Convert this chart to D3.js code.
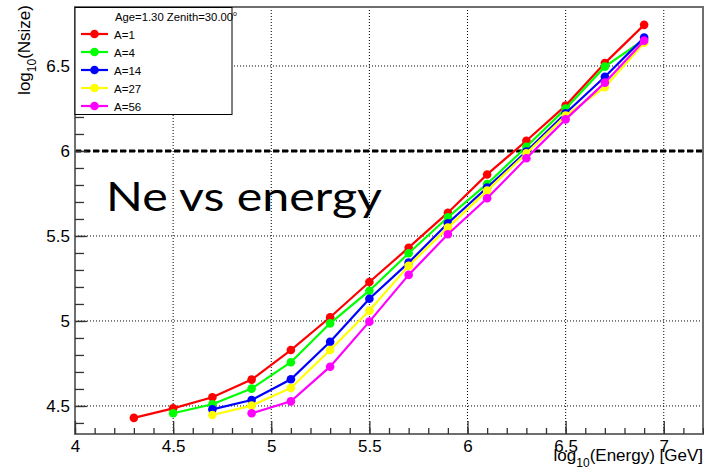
<!DOCTYPE html>
<html>
<head>
<meta charset="utf-8">
<script src="https://cdn.jsdelivr.net/npm/d3@7"></script>
<style>
  body { margin: 0; background: #fff; }
</style>
</head>
<body>
<div id="chart"></div>
<script>
// log10(Energy) bins, each series starts at a different bin (null = no point)
var energy = [4.3, 4.5, 4.7, 4.9, 5.1, 5.3, 5.5, 5.7, 5.9, 6.1, 6.3, 6.5, 6.7, 6.9];
var a1  = [4.430, 4.486, 4.551, 4.655, 4.829, 5.022, 5.229, 5.431, 5.637, 5.862, 6.060, 6.267, 6.517, 6.742];
var a4  = [null, 4.457, 4.510, 4.602, 4.757, 4.986, 5.178, 5.398, 5.610, 5.806, 6.025, 6.249, 6.496, 6.655];
var a14 = [null, null, 4.480, 4.535, 4.657, 4.878, 5.131, 5.343, 5.575, 5.785, 5.996, 6.222, 6.437, 6.667];
var a27 = [null, null, 4.447, 4.502, 4.606, 4.829, 5.061, 5.324, 5.549, 5.767, 5.986, 6.208, 6.375, 6.637];
var a56 = [null, null, null, 4.457, 4.527, 4.731, 4.996, 5.271, 5.510, 5.722, 5.957, 6.186, 6.402, 6.649];

var seriesNames = ["A=1", "A=4", "A=14", "A=27", "A=56"];
var seriesValues = [a1, a4, a14, a27, a56];
var colors = ["#ff0000", "#00ff00", "#0000ff", "#ffff00", "#ff00ff"];

var xTicks = [4, 4.5, 5, 5.5, 6, 6.5, 7];
var yTicks = [4.5, 5, 5.5, 6, 6.5];
var threshold = 6;

var helv = "'Liberation Sans', Arial, sans-serif";

// set the dimensions and margins of the graph
var W = 704, H = 475;
var margin = {top: 7, right: 1, bottom: 41, left: 75},
    width = W - margin.left - margin.right,
    height = H - margin.top - margin.bottom;

var svg = d3.select("#chart")
  .append("svg")
    .attr("width", W)
    .attr("height", H)
    .style("font-family", helv)
  .append("g")
    .attr("transform", "translate(" + margin.left + "," + margin.top + ")");

var x = d3.scaleLinear().domain([4, 7.2]).range([0, width]);
var y = d3.scaleLinear().domain([4.335, 6.847]).range([height, 0]);

// dotted grid
svg.append("g")
  .selectAll("line")
  .data(xTicks.filter(function(d) { return d > 4; }))
  .enter().append("line")
    .attr("x1", d => x(d)).attr("x2", d => x(d))
    .attr("y1", 0).attr("y2", height)
    .attr("stroke", "#000").attr("stroke-width", 1)
    .attr("stroke-dasharray", "1,2");
svg.append("g")
  .selectAll("line")
  .data(yTicks)
  .enter().append("line")
    .attr("x1", 0).attr("x2", width)
    .attr("y1", d => y(d)).attr("y2", d => y(d))
    .attr("stroke", "#000").attr("stroke-width", 1)
    .attr("stroke-dasharray", "1,2");

// thick dashed line at log10(Nsize) = 6
svg.append("line")
  .attr("x1", 0).attr("x2", width)
  .attr("y1", y(threshold)).attr("y2", y(threshold))
  .attr("stroke", "#000").attr("stroke-width", 3)
  .attr("stroke-dasharray", "6,3");

// frame
svg.append("rect")
  .attr("x", 0).attr("y", 0)
  .attr("width", width).attr("height", height)
  .attr("fill", "none").attr("stroke", "#6e6e6e").attr("stroke-width", 2);

// X axis: ticks drawn inward, ROOT style
var xMinor = d3.range(40, 73).map(d => d / 10);
svg.append("g")
  .attr("transform", "translate(0," + height + ")")
  .call(d3.axisBottom(x).tickValues(xMinor).tickSize(-6).tickFormat(""))
  .call(g => g.select(".domain").remove())
  .call(g => g.selectAll("line").attr("stroke", "#333").attr("stroke-width", 1.3));
svg.append("g")
  .attr("transform", "translate(0," + height + ")")
  .call(d3.axisBottom(x).tickValues(xTicks).tickSize(-13)
    .tickFormat(d3.format("")))
  .call(g => g.select(".domain").remove())
  .call(g => g.selectAll("line").attr("stroke", "#333").attr("stroke-width", 1.3))
  .call(g => g.selectAll("text").attr("font-size", 17).attr("fill", "#000")
    .attr("font-family", helv)
    .attr("y", 6));

// Y axis
var yMinor = d3.range(44, 69).map(d => d / 10);
svg.append("g")
  .call(d3.axisLeft(y).tickValues(yMinor).tickSize(-9).tickFormat(""))
  .call(g => g.select(".domain").remove())
  .call(g => g.selectAll("line").attr("stroke", "#333").attr("stroke-width", 1.3));
svg.append("g")
  .call(d3.axisLeft(y).tickValues(yTicks).tickSize(-12).tickPadding(5)
    .tickFormat(d3.format("")))
  .call(g => g.select(".domain").remove())
  .call(g => g.selectAll("line").attr("stroke", "#333").attr("stroke-width", 1.3))
  .call(g => g.selectAll("text").attr("font-size", 17).attr("fill", "#000")
    .attr("font-family", helv));

// Add the lines and markers
var line = d3.line()
  .defined(d => d.v != null)
  .x(d => x(d.e))
  .y(d => y(d.v));

seriesValues.forEach(function(vals, i) {
  var pts = energy.map(function(e, j) { return {e: e, v: vals[j]}; });
  svg.append("path")
    .datum(pts)
    .attr("fill", "none")
    .attr("stroke", colors[i])
    .attr("stroke-width", 2.2)
    .attr("d", line);
  svg.append("g")
    .selectAll("circle")
    .data(pts.filter(d => d.v != null))
    .enter().append("circle")
      .attr("cx", d => x(d.e))
      .attr("cy", d => y(d.v))
      .attr("r", 4.3)
      .attr("fill", colors[i]);
});

// legend box
var leg = svg.append("g");
leg.append("rect")
  .attr("x", 0).attr("y", 0.5)
  .attr("width", 157).attr("height", 107)
  .attr("fill", "#fff").attr("stroke", "#000").attr("stroke-width", 1);
var head = leg.append("text")
  .attr("x", 40).attr("y", 14)
  .attr("font-size", 11.3).attr("fill", "#000");
head.append("tspan").text("Age=1.30 Zenith=30.00");
head.append("tspan").attr("font-size", 7).attr("dy", -5).text("o");

seriesNames.forEach(function(name, i) {
  var cy = 27 + i * 18;
  leg.append("line")
    .attr("x1", 6).attr("x2", 33).attr("y1", cy).attr("y2", cy)
    .attr("stroke", colors[i]).attr("stroke-width", 2.2);
  leg.append("circle")
    .attr("cx", 19.5).attr("cy", cy).attr("r", 4.3).attr("fill", colors[i]);
  leg.append("text")
    .attr("x", 39).attr("y", cy + 4.5)
    .attr("font-size", 11.5).attr("fill", "#000")
    .text(name);
});

// axis titles
var root = d3.select("svg");
var xt = root.append("text")
  .attr("x", 703).attr("y", 461)
  .attr("text-anchor", "end")
  .attr("font-size", 17).attr("fill", "#000");
xt.append("tspan").text("log");
xt.append("tspan").attr("font-size", 12).attr("dy", 6).text("10");
xt.append("tspan").attr("dy", -6).text("(Energy) [GeV]");

var yt = root.append("text")
  .attr("transform", "translate(30,5) rotate(-90)")
  .attr("text-anchor", "end")
  .attr("font-size", 17).attr("fill", "#000");
yt.append("tspan").text("log");
yt.append("tspan").attr("font-size", 12).attr("dy", 6).text("10");
yt.append("tspan").attr("dy", -6).text("(Nsize)");

// overlay caption
root.append("text")
  .attr("x", 106).attr("y", 211)
  .style("font-family", "Lato, 'Open Sans', sans-serif")
  .attr("font-size", 40)
  .attr("textLength", 276)
  .attr("lengthAdjust", "spacingAndGlyphs")
  .attr("fill", "#000")
  .text("Ne vs energy");
</script>
</body>
</html>
